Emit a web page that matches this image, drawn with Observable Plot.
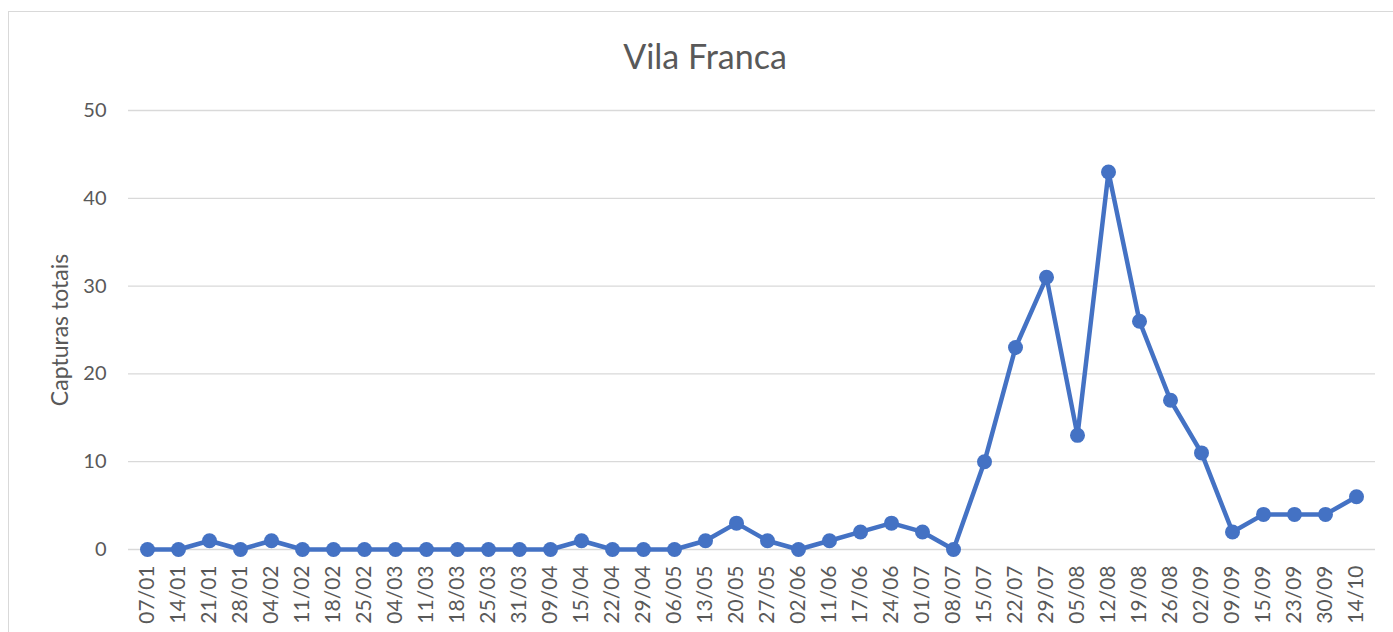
<!DOCTYPE html>
<html>
<head>
<meta charset="utf-8">
<script src="https://cdn.jsdelivr.net/npm/d3@7"></script>
<script src="https://cdn.jsdelivr.net/npm/@observablehq/plot@0.6"></script>
<style>
  body { margin: 0; background: #fff; }
  #wrap { position: relative; width: 1393px; height: 632px; overflow: hidden; font-family: Lato, "Open Sans", sans-serif; }
  #frame { position: absolute; left: 8px; top: 11px; width: 1400px; height: 700px; border-left: 1px solid #d9d9d9; border-top: 1px solid #d9d9d9; }
  #title { position: absolute; left: 0; width: 1410px; top: 35px; text-align: center; font-size: 34px; color: #595959; }
  #chart { position: absolute; left: 0; top: 0; }
</style>
</head>
<body>
<div id="wrap">
  <div id="frame"></div>
  <div id="title">Vila Franca</div>
  <div id="chart"></div>
</div>
<script>
const dates = ["07/01","14/01","21/01","28/01","04/02","11/02","18/02","25/02","04/03","11/03","18/03","25/03","31/03","09/04","15/04","22/04","29/04","06/05","13/05","20/05","27/05","02/06","11/06","17/06","24/06","01/07","08/07","15/07","22/07","29/07","05/08","12/08","19/08","26/08","02/09","09/09","15/09","23/09","30/09","14/10"];
const captures = [0,0,1,0,1,0,0,0,0,0,0,0,0,0,1,0,0,0,1,3,1,0,1,2,3,2,0,10,23,31,13,43,26,17,11,2,4,4,4,6];
const yTicks = [0,10,20,30,40,50];
const yLabel = "Capturas totais";

const data = dates.map((d, i) => ({date: d, value: captures[i]}));

const chart = Plot.plot({
  width: 1393,
  height: 632,
  marginLeft: 128,
  marginRight: 18,
  marginTop: 110,
  marginBottom: 83,
  style: {fontFamily: "Lato, 'Open Sans', sans-serif", fontSize: "20px", color: "#595959", background: "transparent"},
  x: {type: "point", domain: dates, padding: 0.5},
  y: {domain: [0, 50]},
  marks: [
    Plot.ruleY(yTicks, {stroke: "#d9d9d9", strokeWidth: 1.3}),
    Plot.axisY({ticks: yTicks, tickSize: 0, tickPadding: 22, label: null, fontSize: 20}),
    Plot.text([yLabel], {frameAnchor: "left", dx: -128 + 60, rotate: -90, textAnchor: "middle", fontSize: 23, fill: "#595959"}),
    Plot.axisX({tickRotate: -90, tickSize: 0, tickPadding: 16, label: null, fontSize: 21}),
    Plot.line(data, {x: "date", y: "value", stroke: "#4472C4", strokeWidth: 4.5}),
    Plot.dot(data, {x: "date", y: "value", fill: "#4472C4", r: 7.5})
  ]
});
document.getElementById("chart").appendChild(chart);
</script>
</body>
</html>
